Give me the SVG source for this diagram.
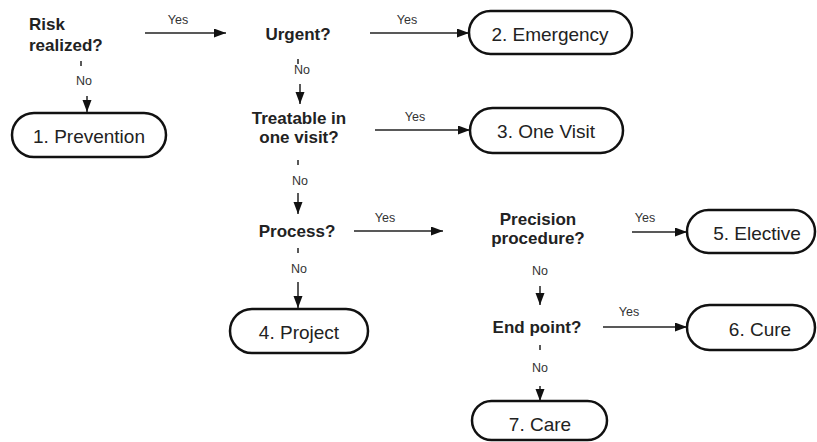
<svg xmlns="http://www.w3.org/2000/svg" width="817" height="442" viewBox="0 0 817 442">
<style>
.q{font-family:"Liberation Sans",Arial,sans-serif;font-weight:bold;font-size:17px;fill:#222}
.b{font-family:"Liberation Sans",Arial,sans-serif;font-size:19px;fill:#222;text-anchor:middle}
.l{font-family:"Liberation Sans",Arial,sans-serif;font-size:12.5px;fill:#333;text-anchor:middle}
.box{fill:#fff;stroke:#111;stroke-width:2.5}
.c{stroke:#222;stroke-width:1.5;fill:none;marker-end:url(#ah)}
.t{stroke:#222;stroke-width:1.5}
</style>
<defs>
<marker id="ah" markerUnits="userSpaceOnUse" markerWidth="12" markerHeight="10" refX="12" refY="4.5" orient="auto">
<path d="M0,0 L12,4.5 L0,9 z" fill="#111"/>
</marker>
</defs>
<rect width="817" height="442" fill="#fff"/>

<g id="connectors">
<line class="c" x1="145" y1="33" x2="226" y2="33"/>
<text class="l" x="178" y="24">Yes</text>
<line class="c" x1="370" y1="33" x2="469" y2="33"/>
<text class="l" x="407" y="24">Yes</text>
<line class="t" x1="81" y1="61" x2="81" y2="66"/>
<text class="l" x="84" y="85">No</text>
<line class="c" x1="87" y1="96" x2="87" y2="112"/>
<line class="t" x1="298" y1="59" x2="298" y2="64"/>
<text class="l" x="302" y="74">No</text>
<line class="c" x1="300" y1="84" x2="300" y2="104"/>
<line class="c" x1="375" y1="130" x2="470" y2="130"/>
<text class="l" x="415" y="121">Yes</text>
<line class="t" x1="298" y1="160" x2="298" y2="165"/>
<text class="l" x="300" y="185">No</text>
<line class="c" x1="298" y1="193" x2="298" y2="214"/>
<line class="c" x1="354" y1="231" x2="443" y2="231"/>
<text class="l" x="385" y="222">Yes</text>
<line class="t" x1="298" y1="248" x2="298" y2="253"/>
<text class="l" x="299" y="273">No</text>
<line class="c" x1="298" y1="282" x2="298" y2="308"/>
<line class="c" x1="632" y1="232" x2="687" y2="232"/>
<text class="l" x="645" y="222">Yes</text>
<text class="l" x="540" y="275">No</text>
<line class="c" x1="540" y1="286" x2="540" y2="305"/>
<line class="c" x1="603" y1="327" x2="687" y2="327"/>
<text class="l" x="629" y="316">Yes</text>
<line class="t" x1="540" y1="345" x2="540" y2="350"/>
<text class="l" x="540" y="372">No</text>
<line class="c" x1="540" y1="386" x2="540" y2="401"/>
</g>

<g id="risk"><text class="q" x="29" y="30">Risk</text><text class="q" x="29" y="51">realized?</text></g>
<g id="urgent"><text class="q" x="298" y="40" text-anchor="middle">Urgent?</text></g>
<g id="treatable"><text class="q" x="299" y="124" text-anchor="middle">Treatable in</text><text class="q" x="299" y="143" text-anchor="middle">one visit?</text></g>
<g id="process"><text class="q" x="297" y="237" text-anchor="middle">Process?</text></g>
<g id="precision"><text class="q" x="538" y="225" text-anchor="middle">Precision</text><text class="q" x="538" y="244" text-anchor="middle">procedure?</text></g>
<g id="endpoint"><text class="q" x="537" y="333" text-anchor="middle">End point?</text></g>

<g id="prevention"><rect class="box" x="12" y="113" width="154" height="44" rx="22"/><text class="b" x="89" y="143">1. Prevention</text></g>
<g id="emergency"><rect class="box" x="469" y="11" width="163" height="43" rx="21.5"/><text class="b" x="550" y="41">2. Emergency</text></g>
<g id="onevisit"><rect class="box" x="470" y="108" width="153" height="45" rx="22.5"/><text class="b" x="546" y="138">3. One Visit</text></g>
<g id="project"><rect class="box" x="230" y="309" width="138" height="44" rx="22"/><text class="b" x="299" y="339">4. Project</text></g>
<g id="elective"><rect class="box" x="687" y="210" width="128" height="43" rx="21.5"/><text class="b" x="757" y="240">5. Elective</text></g>
<g id="cure"><rect class="box" x="687" y="305" width="128" height="45" rx="22.5"/><text class="b" x="760" y="336">6. Cure</text></g>
<g id="care"><rect class="box" x="472" y="401" width="135" height="39" rx="19.5"/><text class="b" x="540" y="431">7. Care</text></g>
</svg>
